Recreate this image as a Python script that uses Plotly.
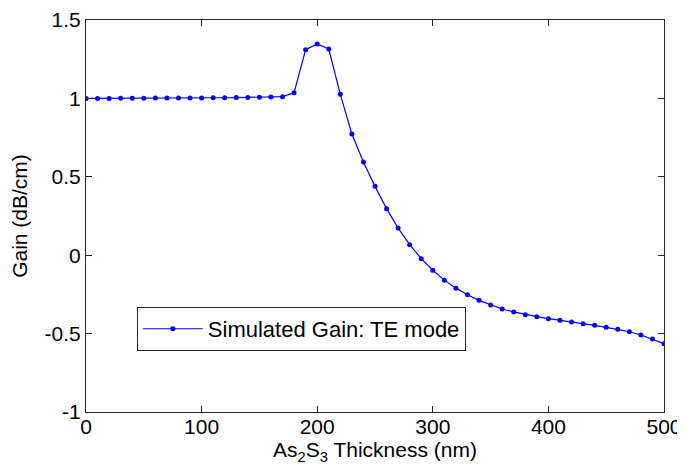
import plotly.graph_objects as go

thickness_nm = [0, 10, 20, 30, 40, 50, 60, 70, 80, 90,
                100, 110, 120, 130, 140, 150, 160, 170, 180, 190,
                200, 210, 220, 230, 240, 250, 260, 270, 280, 290,
                300, 310, 320, 330, 340, 350, 360, 370, 380, 390,
                400, 410, 420, 430, 440, 450, 460, 470, 480, 490, 500]

gain_db_cm = [1.000, 1.000, 1.000, 1.001, 1.001, 1.001, 1.002, 1.002, 1.002, 1.003,
              1.003, 1.004, 1.004, 1.005, 1.006, 1.008, 1.009, 1.011, 1.036, 1.311,
              1.347, 1.315, 1.026, 0.773, 0.594, 0.439, 0.297, 0.173, 0.067, -0.022,
              -0.096, -0.159, -0.210, -0.252, -0.288, -0.318, -0.343, -0.362, -0.379, -0.392,
              -0.405, -0.415, -0.426, -0.437, -0.447, -0.460, -0.473, -0.488, -0.509, -0.534,
              -0.564]

series_name = "Simulated Gain: TE mode"
x_ticks = [0, 100, 200, 300, 400, 500]
y_ticks = [-1, -0.5, 0, 0.5, 1, 1.5]
y_tick_labels = ["-1", "-0.5", "0", "0.5", "1", "1.5"]

FONT = "Liberation Sans, Arial, Helvetica, sans-serif"

fig = go.Figure()
fig.add_trace(go.Scatter(
    x=thickness_nm, y=gain_db_cm, name=series_name,
    mode="lines+markers",
    line=dict(color="#0000ff", width=1.2),
    marker=dict(color="#0000ff", size=5),
    showlegend=True,
))

axis_common = dict(
    showline=True, linecolor="#262626", linewidth=1,
    mirror="ticks", ticks="inside", ticklen=6, tickwidth=1, tickcolor="#262626",
    showgrid=False, zeroline=False, automargin=False,
    tickfont=dict(family=FONT, size=21, color="#000000"),
)

# page body has an 8px default margin, so the figure is sized to fit the window
fig.update_layout(
    width=677, height=464,
    margin=dict(l=78, r=21, t=12, b=60, autoexpand=False),
    paper_bgcolor="white", plot_bgcolor="white",
    font=dict(family=FONT, size=21, color="#000000"),
    xaxis=dict(range=[0, 500], tickvals=x_ticks, ticklabelstandoff=-4,
               title=dict(text="As<sub>2</sub>S<sub>3</sub> Thickness (nm)", standoff=0,
                          font=dict(family=FONT, size=21)),
               **axis_common),
    yaxis=dict(range=[-1, 1.5], tickvals=y_ticks, ticktext=y_tick_labels,
               title=dict(text="Gain (dB/cm)", standoff=12,
                          font=dict(family=FONT, size=21)),
               **axis_common),
    legend=dict(x=0.088, y=0.268, xanchor="left", yanchor="top",
                bgcolor="white", bordercolor="#262626", borderwidth=1,
                itemwidth=60, font=dict(family=FONT, size=22)),
)

fig.write_html("out.html")
